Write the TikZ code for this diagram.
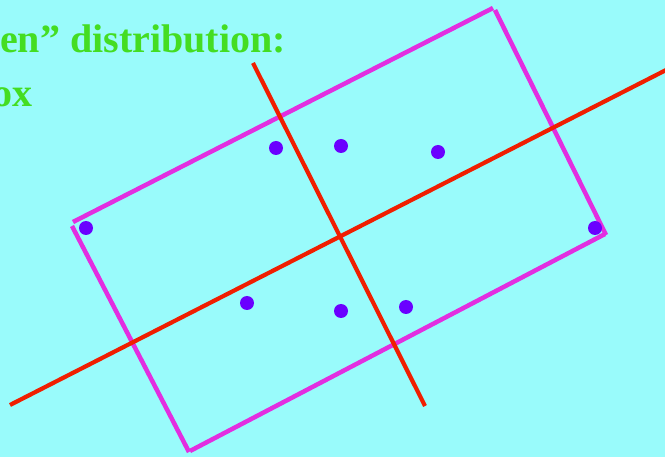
\documentclass[tikz,border=0pt]{standalone}
\usepackage{fontspec}
\setmainfont{Liberation Serif}
\definecolor{bg}{HTML}{99FBFB}
\definecolor{txtgreen}{HTML}{44DD22}
\definecolor{boxmag}{HTML}{E22EE0}
\definecolor{axred}{HTML}{F01E00}
\definecolor{dotpur}{HTML}{6A00FF}
\tikzset{
  boxedge/.style={draw=boxmag, line width=4.5pt},
  axisline/.style={draw=axred, line width=4.2pt},
  pt/.style={circle, fill=dotpur, inner sep=0pt, minimum size=14pt},
  heading/.style={text=txtgreen, font=\fontsize{40}{40}\selectfont\bfseries, inner sep=0pt}
}
\begin{document}
\begin{tikzpicture}[x=1pt,y=-1pt]
\useasboundingbox (0,0) rectangle (665,457);
\fill[bg] (0,0) rectangle (665,457);
\clip (0,0) rectangle (665,457);
\node[heading, anchor=base east] (t1) at (286,53) {en” distribution:};
\node[heading, anchor=base east] (t2) at (33,107) {ox};
% box corners
\coordinate (c1) at (73,222);
\coordinate (c1b) at (72,226);
\coordinate (c2) at (493,8);
\coordinate (c2b) at (495,10);
\coordinate (c3) at (606,235);
\coordinate (c3b) at (605,234);
\coordinate (c4) at (189,452);
\coordinate (c4b) at (190,451);
\draw[boxedge] (c1) -- (c2);
\draw[boxedge] (c2b) -- (c3);
\draw[boxedge] (c3b) -- (c4b);
\draw[boxedge] (c1b) -- (c4);
% axes
\coordinate (a1) at (10,405);
\coordinate (a2) at (670,68);
\coordinate (b1) at (253,63);
\coordinate (b2) at (425,406);
\draw[axisline] (a1) -- (a2);
\draw[axisline] (b1) -- (b2);
% points
\node[pt] (p1) at (86,228) {};
\node[pt] (p2) at (276,148) {};
\node[pt] (p3) at (341,146) {};
\node[pt] (p4) at (438,152) {};
\node[pt] (p5) at (595,228) {};
\node[pt] (p6) at (247,303) {};
\node[pt] (p7) at (341,311) {};
\node[pt] (p8) at (406,307) {};
\end{tikzpicture}
\end{document}
